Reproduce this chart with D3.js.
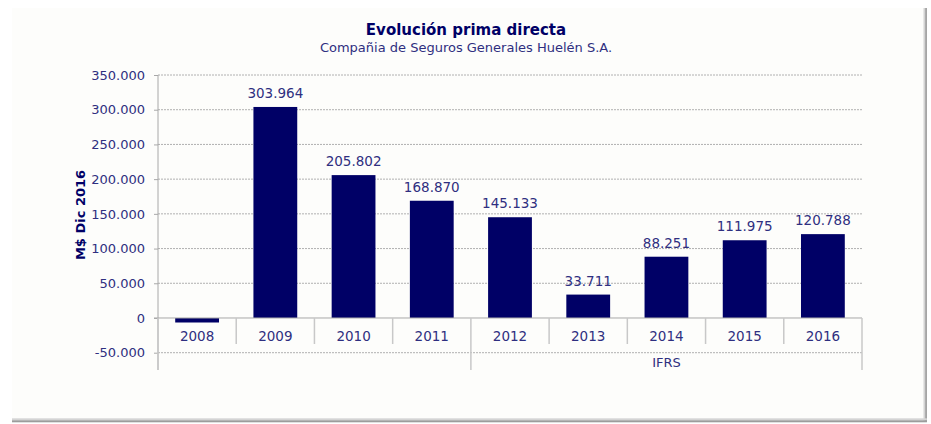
<!DOCTYPE html>
<html><head><meta charset="utf-8">
<script src="https://cdn.jsdelivr.net/npm/d3@7"></script>
<style>
html,body{margin:0;padding:0;background:#fff;}
svg{display:block;font-family:"DejaVu Sans",Verdana,sans-serif;}
</style></head>
<body><svg id="c" width="931" height="424"></svg>
<script>
const years = ["2008","2009","2010","2011","2012","2013","2014","2015","2016"];
const values = [-6500, 303964, 205802, 168870, 145133, 33711, 88251, 111975, 120788];
const valueLabels = ["", "303.964", "205.802", "168.870", "145.133", "33.711", "88.251", "111.975", "120.788"];
const groups = [{label:"", from:"2008", to:"2011"}, {label:"IFRS", from:"2012", to:"2016"}];
const yTicks = [-50000, 0, 50000, 100000, 150000, 200000, 250000, 300000, 350000];
const title = "Evolución prima directa";
const subtitle = "Compañia de Seguros Generales Huelén S.A.";
const yTitle = "M$ Dic 2016";

const loc = d3.formatLocale({decimal:",", thousands:".", grouping:[3], currency:["$",""], minus:"-"});
const fmt = loc.format(",d");

const svg = d3.select("#c");
const L = 158, R = 862, T = 75, B = 352.7;
const navy = "#000066", txt = "#2f2f80", grid = "#b0b0b0", axisC = "#a8a8a8";

// frame
svg.append("rect").attr("x",12).attr("y",8).attr("width",912).attr("height",410).attr("fill","#fdfdfb");
svg.append("rect").attr("x",923.5).attr("y",8).attr("width",1.7).attr("height",414).attr("fill","#d4d4d4");
svg.append("rect").attr("x",925.2).attr("y",8).attr("width",1.7).attr("height",414).attr("fill","#9c9c9c");
svg.append("rect").attr("x",12).attr("y",418.3).attr("width",914.9).attr("height",2).attr("fill","#d4d4d4");
svg.append("rect").attr("x",12).attr("y",420.3).attr("width",914.9).attr("height",2).attr("fill","#9c9c9c");

const x = d3.scaleBand().domain(years).range([L, R]).paddingInner(0.44).paddingOuter(0.22);
const y = d3.scaleLinear().domain([-50000, 350000]).range([B, T]);

// gridlines
svg.append("g").selectAll("line").data(yTicks.filter(d => d !== 0)).join("line")
  .attr("x1", L).attr("x2", R).attr("y1", d => y(d)).attr("y2", d => y(d))
  .attr("stroke", grid).attr("stroke-width", 1).attr("stroke-dasharray", "2,1");

// y axis
const ya = svg.append("g").attr("transform", `translate(${L},0)`)
  .call(d3.axisLeft(y).tickValues(yTicks).tickSize(4).tickPadding(9).tickFormat(fmt));
ya.select(".domain").remove();
ya.selectAll(".tick line").attr("stroke", axisC);
ya.selectAll(".tick text").attr("fill", txt).style("font-size","13px").style("font-family","DejaVu Sans, Verdana, sans-serif");
svg.append("line").attr("x1",L).attr("x2",L).attr("y1",T).attr("y2",370).attr("stroke",axisC);

// bars
svg.append("g").selectAll("rect").data(years).join("rect")
  .attr("x", d => x(d)).attr("width", x.bandwidth())
  .attr("y", (d,i) => y(Math.max(0, values[i])))
  .attr("height", (d,i) => Math.abs(y(values[i]) - y(0)))
  .attr("fill", navy);

// value labels
svg.append("g").selectAll("text").data(years).join("text")
  .attr("x", d => x(d) + x.bandwidth()/2)
  .attr("y", (d,i) => y(Math.max(0, values[i])) - 9)
  .attr("text-anchor","middle").attr("fill", txt).style("font-size","13.5px")
  .text((d,i) => valueLabels[i]);

// category axis
svg.append("line").attr("x1",L-4).attr("x2",R).attr("y1",y(0)).attr("y2",y(0)).attr("stroke",axisC);
const step = x.step();
const bounds = years.map((d,i) => L + step*i).concat([R]);
const groupEdges = new Set();
groups.forEach(g => { groupEdges.add(years.indexOf(g.from)); groupEdges.add(years.indexOf(g.to)+1); });
svg.append("g").selectAll("line").data(bounds).join("line")
  .attr("x1", d => d).attr("x2", d => d)
  .attr("y1", y(0)).attr("y2", (d,i) => groupEdges.has(i) ? 370 : 344)
  .attr("stroke", "#c8c8c8").attr("stroke-width", 1.5);
svg.append("g").selectAll("text").data(years).join("text")
  .attr("x", d => x(d) + x.bandwidth()/2).attr("y", 341)
  .attr("text-anchor","middle").attr("fill", txt).style("font-size","13.5px").text(d => d);
svg.append("g").selectAll("text").data(groups).join("text")
  .attr("x", g => (x(g.from) - x.step()*x.paddingInner()/2 + x(g.to) + x.bandwidth() + x.step()*x.paddingInner()/2)/2)
  .attr("y", 367).attr("text-anchor","middle").attr("fill", txt).style("font-size","13px").text(g => g.label);

// titles
svg.append("text").attr("x",466).attr("y",34.5).attr("text-anchor","middle").attr("fill",navy)
  .style("font-size","15px").style("font-weight","bold").text(title);
svg.append("text").attr("x",466).attr("y",51.5).attr("text-anchor","middle").attr("fill",txt)
  .style("font-size","13px").text(subtitle);
svg.append("text").attr("transform","translate(85,215) rotate(-90)").attr("text-anchor","middle")
  .attr("fill",navy).style("font-size","13px").style("font-weight","bold").text(yTitle);
</script></body></html>
